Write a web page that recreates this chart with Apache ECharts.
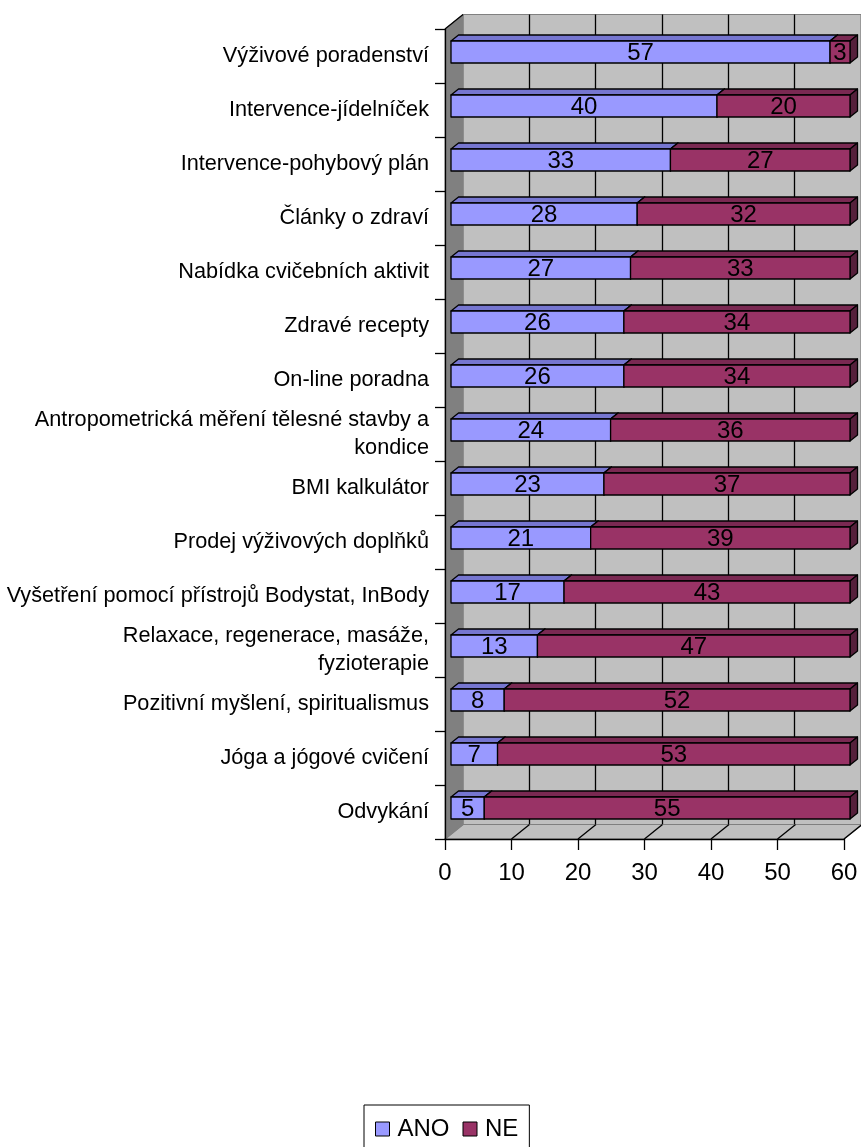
<!DOCTYPE html>
<html>
<head>
<meta charset="utf-8">
<title>ANO / NE</title>
<script src="https://cdn.jsdelivr.net/npm/echarts@6/dist/echarts.min.js"></script>
<style>
  html, body { margin: 0; padding: 0; background: #ffffff; }
  #chart { width: 861px; height: 1147px; }
</style>
</head>
<body>
<div id="chart"></div>
<script>
// Categories from top to bottom
const categories = [
  'Výživové poradenství',
  'Intervence-jídelníček',
  'Intervence-pohybový plán',
  'Články o zdraví',
  'Nabídka cvičebních aktivit',
  'Zdravé recepty',
  'On-line poradna',
  'Antropometrická měření tělesné stavby a\nkondice',
  'BMI kalkulátor',
  'Prodej výživových doplňků',
  'Vyšetření pomocí přístrojů Bodystat, InBody',
  'Relaxace, regenerace, masáže,\nfyzioterapie',
  'Pozitivní myšlení, spiritualismus',
  'Jóga a jógové cvičení',
  'Odvykání'
];
const seriesNames = ['ANO', 'NE'];
const ano = [57, 40, 33, 28, 27, 26, 26, 24, 23, 21, 17, 13, 8, 7, 5];
const ne  = [3, 20, 27, 32, 33, 34, 34, 36, 37, 39, 43, 47, 52, 53, 55];
const xTicks = [0, 10, 20, 30, 40, 50, 60];

// Oblique 3D layout
const FONT = '"Liberation Sans", Arial, Helvetica, sans-serif';
const FRONT = { left: 445, top: 29, width: 399, height: 810 };
const DEPTH = { x: 18, y: -14.5 };        // front plane -> back wall
const BAR_SHIFT = { x: 6, y: -4 };        // front plane -> bar front faces
const BAR_DEPTH = { x: 7.5, y: -6 };      // thickness of each bar
const BAR_RATIO = 22 / 54;                // bar height relative to band

const palette = {
  ANO: { face: '#9999FF', top: '#7676D0', side: '#5C5CA8' },
  NE:  { face: '#993366', top: '#7A2952', side: '#55203B' }
};

const chart = echarts.init(document.getElementById('chart'), null, { renderer: 'canvas' });

function makeBarRenderer(c) {
  return function (params, api) {
    const start = api.value(0);
    const val = api.value(1);
    const cat = api.value(2);
    const a = api.coord([start, cat]);
    const b = api.coord([start + val, cat]);
    const h = api.size([0, 1])[1] * BAR_RATIO;
    const top = a[1] - h / 2, bot = a[1] + h / 2;
    const x0 = a[0], x1 = b[0];
    const dx = BAR_DEPTH.x, dy = BAR_DEPTH.y;
    const line = { stroke: '#000000', lineWidth: 1.3, lineJoin: 'round' };
    return {
      type: 'group',
      children: [
        { type: 'polygon', shape: { points: [[x0, top], [x0 + dx, top + dy], [x1 + dx, top + dy], [x1, top]] },
          style: Object.assign({ fill: c.top }, line) },
        { type: 'polygon', shape: { points: [[x1, top], [x1 + dx, top + dy], [x1 + dx, bot + dy], [x1, bot]] },
          style: Object.assign({ fill: c.side }, line) },
        { type: 'rect', shape: { x: x0, y: top, width: x1 - x0, height: bot - top },
          style: Object.assign({ fill: c.face }, line) },
        { type: 'text', x: (x0 + x1) / 2, y: (top + bot) / 2 + 1,
          style: { text: String(val), fill: '#000000', font: '24px ' + FONT,
                   align: 'center', verticalAlign: 'middle',
                   textAlign: 'center', textVerticalAlign: 'middle' } }
      ]
    };
  };
}

// Side wall, floor and the floor's tick lines of the front grid
function renderWalls(params, api) {
  const cs = params.coordSys;
  const xL = cs.x, yT = cs.y, yB = cs.y + cs.height, xR = cs.x + cs.width;
  const dx = DEPTH.x, dy = DEPTH.y;
  const children = [
    { type: 'polygon', shape: { points: [[xL, yT], [xL + dx, yT + dy], [xL + dx, yB + dy], [xL, yB]] },
      style: { fill: '#808080', stroke: '#808080', lineWidth: 1 } },
    { type: 'polygon', shape: { points: [[xL, yB], [xL + dx, yB + dy], [xR + dx, yB + dy], [xR, yB]] },
      style: { fill: '#C0C0C0', stroke: '#808080', lineWidth: 1.2 } },
    { type: 'line', shape: { x1: xL, y1: yT, x2: xL + dx, y2: yT + dy },
      style: { stroke: '#000000', lineWidth: 1.3 } }
  ];
  xTicks.forEach(function (t) {
    const p = api.coord([t, 0]);
    children.push({ type: 'line', shape: { x1: p[0], y1: yB, x2: p[0] + dx, y2: yB + dy },
      style: { stroke: t === 0 ? '#808080' : '#000000', lineWidth: 1.3 } });
  });
  return { type: 'group', children: children };
}

const valueAxisBase = { type: 'value', min: 0, max: 60, interval: 10 };
const hiddenCat = { type: 'category', data: categories, inverse: true, show: false };

chart.setOption({
  backgroundColor: '#ffffff',
  animation: false,
  textStyle: { fontFamily: FONT },
  grid: [
    // back wall
    { left: FRONT.left + DEPTH.x, top: FRONT.top + DEPTH.y, width: FRONT.width, height: FRONT.height,
      show: true, backgroundColor: '#C0C0C0', borderColor: '#808080', borderWidth: 1.2, z: 0 },
    // front plane (visible axes)
    { left: FRONT.left, top: FRONT.top, width: FRONT.width, height: FRONT.height },
    // plane of the bar front faces
    { left: FRONT.left + BAR_SHIFT.x, top: FRONT.top + BAR_SHIFT.y, width: FRONT.width, height: FRONT.height }
  ],
  xAxis: [
    Object.assign({}, valueAxisBase, { gridIndex: 0, axisLine: { show: false }, axisTick: { show: false },
      axisLabel: { show: false },
      splitLine: { show: true, showMinLine: false, showMaxLine: false, lineStyle: { color: '#000000', width: 1.3 } } }),
    Object.assign({}, valueAxisBase, { gridIndex: 1, z: 5,
      axisLine: { show: true, onZero: false, lineStyle: { color: '#000000', width: 1.3 } },
      axisTick: { show: true, length: 11, lineStyle: { color: '#000000', width: 1.3 } },
      axisLabel: { show: true, margin: 22, color: '#000000', fontSize: 24, fontFamily: FONT },
      splitLine: { show: false } }),
    Object.assign({}, valueAxisBase, { gridIndex: 2, show: false, splitLine: { show: false } })
  ],
  yAxis: [
    Object.assign({}, hiddenCat, { gridIndex: 0 }),
    { type: 'category', data: categories, inverse: true, gridIndex: 1, z: 5,
      axisLine: { show: true, onZero: false, lineStyle: { color: '#000000', width: 1.3 } },
      axisTick: { show: true, length: 10, lineStyle: { color: '#000000', width: 1.3 } },
      axisLabel: { show: true, margin: 16, color: '#000000', fontSize: 21.7, lineHeight: 28,
                   fontFamily: FONT, align: 'right', interval: 0 },
      splitLine: { show: false } },
    Object.assign({}, hiddenCat, { gridIndex: 2 })
  ],
  legend: {
    left: 364, top: 1105,
    padding: [12, 11, 20, 11],
    borderColor: '#000000', borderWidth: 1,
    itemWidth: 14, itemHeight: 14, itemGap: 13,
    icon: 'rect',
    itemStyle: { borderColor: '#000000', borderWidth: 1 },
    textStyle: { fontSize: 24, color: '#000000', fontFamily: FONT, padding: [0, 0, 0, 3] },
    data: seriesNames
  },
  series: [
    { type: 'custom', name: 'walls', xAxisIndex: 1, yAxisIndex: 1, z: 1, silent: true,
      renderItem: renderWalls, data: [[0, 0]], encode: { x: 0, y: 1 } },
    { type: 'custom', name: seriesNames[0], xAxisIndex: 2, yAxisIndex: 2, z: 2,
      itemStyle: { color: palette.ANO.face },
      renderItem: makeBarRenderer(palette.ANO),
      encode: { x: [0, 1], y: 2 },
      data: ano.map(function (v, i) { return [0, v, i]; }) },
    { type: 'custom', name: seriesNames[1], xAxisIndex: 2, yAxisIndex: 2, z: 3,
      itemStyle: { color: palette.NE.face },
      renderItem: makeBarRenderer(palette.NE),
      encode: { x: [0, 1], y: 2 },
      data: ne.map(function (v, i) { return [ano[i], v, i]; }) }
  ]
});
</script>
</body>
</html>
